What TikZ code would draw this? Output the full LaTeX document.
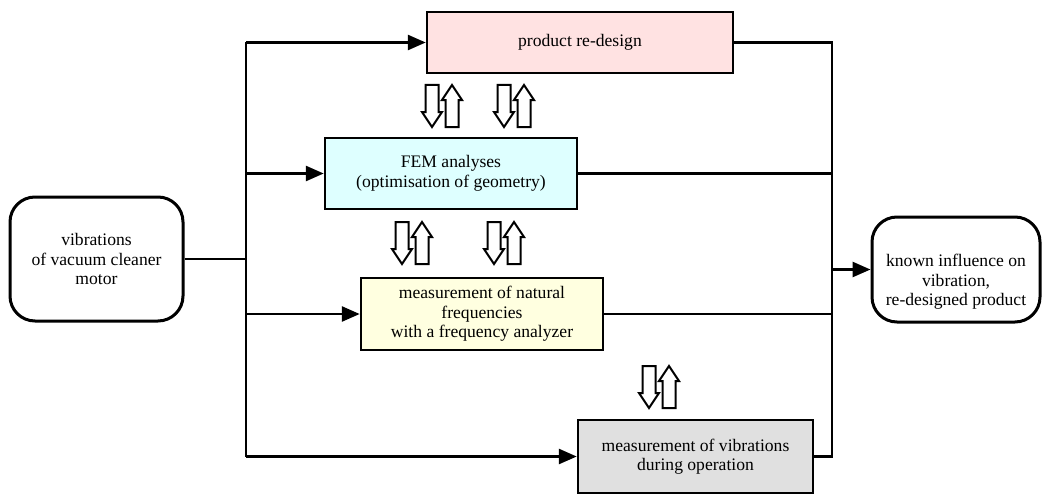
\documentclass[tikz,border=0pt]{standalone}
\usepackage{fontspec}
\setmainfont{Liberation Serif}
\usepackage{tikz}
\usetikzlibrary{arrows.meta}

\definecolor{designfill}{RGB}{255,226,226}
\definecolor{femfill}{RGB}{222,255,255}
\definecolor{natfill}{RGB}{255,255,224}
\definecolor{opsfill}{RGB}{224,224,224}

\tikzset{
  block/.style={draw, line width=2.5pt, align=center, inner sep=0pt,
    font=\fontsize{17.6}{19.5}\selectfont},
  endbox/.style={block, rounded corners=25pt, line width=3pt},
  feed/.style={line width=2.8pt},
  merge/.style={line width=2.2pt},
  hollow/.style={draw, line width=2pt, fill=white, line join=miter}
}

% pair of hollow arrows, down one then up one; #1 = x of down arrow, #2 = top y
\newcommand{\flowpair}[2]{%
  \draw[hollow] ({#1-6.5},#2) -- ({#1+6.5},#2) -- ({#1+6.5},{#2+27})
    -- ({#1+10},{#2+27}) -- (#1,{#2+42}) -- ({#1-10},{#2+27})
    -- ({#1-6.5},{#2+27}) -- cycle;
  \draw[hollow] ({#1+20-6.5},{#2+42}) -- ({#1+20+6.5},{#2+42}) -- ({#1+20+6.5},{#2+15})
    -- ({#1+20+10},{#2+15}) -- ({#1+20},#2) -- ({#1+20-10},{#2+15})
    -- ({#1+20-6.5},{#2+15}) -- cycle;
}

\begin{document}
\begin{tikzpicture}[x=1pt, y=-1pt, >={Triangle[length=18pt,width=15pt]}]
\useasboundingbox (0,0) rectangle (1042,495);

% boxes
\node[endbox, minimum width=173, minimum height=124] (motor) at (96.5,259)
  {vibrations\\of vacuum cleaner\\motor};
\node[block, fill=designfill, minimum width=306, minimum height=61] (design) at (580,42.5)
  {product re-design};
\node[block, fill=femfill, minimum width=252, minimum height=71] (fem) at (451,173.5)
  {FEM analyses\\(optimisation of geometry)};
\node[block, fill=natfill, minimum width=242, minimum height=72] (natural) at (482,314)
  {measurement of natural\\frequencies\\with a frequency analyzer};
\node[block, fill=opsfill, minimum width=235, minimum height=73] (operation) at (695.5,456.5)
  {measurement of vibrations\\during operation};
\node[endbox, minimum width=168, minimum height=105] (result) at (956,269.5) {};
\node[align=center, font=\fontsize{17.6}{19.5}\selectfont] (resulttext) at (956,282)
  {known influence on\\vibration,\\re-designed product};

% feed lines on the left
\coordinate (split) at (246,259);
\coordinate (top) at (246,42.5);
\coordinate (bottom) at (246,456.5);
\draw[feed] (motor.east) -- (split);
\draw[feed] (top) -- (bottom);
\draw[feed, ->] (top) -- (design.west);
\draw[feed, ->] (top |- fem.west) -- (fem.west);
\draw[feed, ->] (top |- natural.west) -- (natural.west);
\draw[feed, ->] (bottom) -- (operation.west);

% merge lines on the right
\coordinate (mtop) at (832,42.5);
\coordinate (mbot) at (832,456.5);
\draw[merge] (design.east) -- (mtop) -- (mbot) -- (operation.east);
\draw[merge] (fem.east) -- (mtop |- fem.east);
\draw[merge] (natural.east) -- (mtop |- natural.east);
\draw[feed, ->] (mtop |- result.west) -- (result.west);

% exchange between stages
\flowpair{432}{85}
\flowpair{504}{85}
\flowpair{402}{222}
\flowpair{494}{222}
\flowpair{649}{366}
\end{tikzpicture}
\end{document}
